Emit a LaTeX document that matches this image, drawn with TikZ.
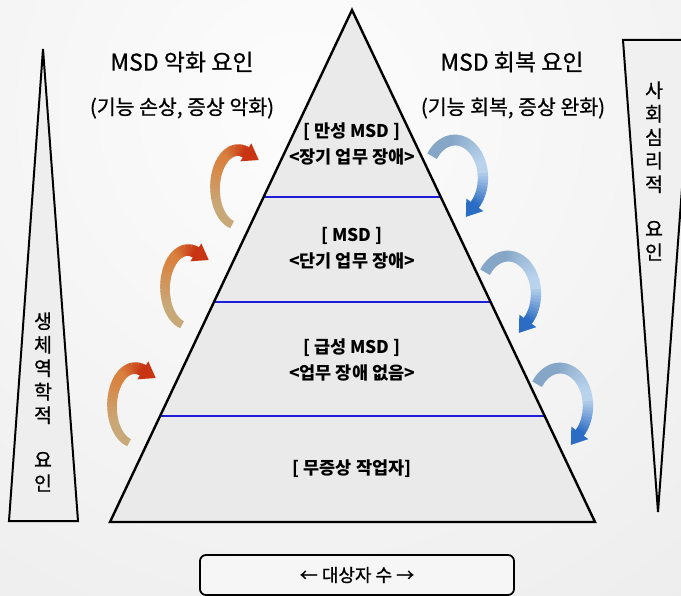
\documentclass[tikz,border=0pt]{standalone}
\usepackage{fontspec}
\setmainfont{Noto Sans CJK KR}
\newfontfamily\krhv{Noto Sans CJK KR}[FakeBold=0.7]
\usetikzlibrary{calc}

\definecolor{Ltail}{HTML}{C9A877}
\definecolor{Lmid}{HTML}{D9823F}
\definecolor{Lhead}{HTML}{C93412}
\definecolor{Btail}{HTML}{86A6C8}
\definecolor{Bmid}{HTML}{B9D3EC}
\definecolor{Bhead}{HTML}{2B6CC4}
\definecolor{lvl}{HTML}{1E1ED8}
\definecolor{pyrfill}{HTML}{EAEAEA}

% gradient curved arrow: cx cy rx ry t0 t1 w0 w1 colour-prefix
\newcommand\garrow[9]{%
  \pgfmathsetmacro\gda{(#6-#5)/40}
  \foreach \gi in {0,...,39}{
    \pgfmathsetmacro\gta{#5+\gi*\gda}
    \pgfmathsetmacro\gtb{\gta+\gda*1.35}
    \pgfmathsetmacro\gw{#7+(#8-#7)*\gi/39}
    \pgfmathtruncatemacro\gma{max(0,min(100,(\gi-10)*100/15))}
    \pgfmathtruncatemacro\gmb{max(0,min(100,(\gi-28)*100/11))}
    \colorlet{gcA}{#9mid!\gma!#9tail}
    \colorlet{gcB}{#9head!\gmb!gcA}
    \draw[line width=\gw pt, gcB] ({#1+#3*cos(\gta)},{#2+#4*sin(\gta)})
      arc[start angle=\gta, end angle=\gtb, x radius=#3, y radius=#4];
  }
  \pgfmathsetmacro\gbx{#1+#3*cos(#6)}
  \pgfmathsetmacro\gby{#2+#4*sin(#6)}
  \pgfmathsetmacro\gtx{-#3*sin(#6)}
  \pgfmathsetmacro\gty{#4*cos(#6)}
  \pgfmathsetmacro\gtn{sqrt(\gtx*\gtx+\gty*\gty)}
  \pgfmathsetmacro\gux{\gtx/\gtn}
  \pgfmathsetmacro\guy{\gty/\gtn}
  \fill[#9head] ({\gbx-\guy*10.5},{\gby+\gux*10.5}) -- ({\gbx+\gux*15},{\gby+\guy*15})
     -- ({\gbx+\guy*10.5},{\gby-\gux*10.5}) -- cycle;
}

\tikzset{
  hdr/.style={font=\krhv\fontsize{23}{26}\selectfont, inner sep=0pt},
  subhdr/.style={font=\krhv\fontsize{20.5}{24}\selectfont, inner sep=0pt},
  lvltext/.style={font=\fontsize{17.5}{26}\selectfont\bfseries, align=center, inner sep=0pt},
  vert/.style={font=\krhv\fontsize{19.5}{23.5}\selectfont, align=center, inner sep=0pt},
  lvlline/.style={draw=lvl, line width=2pt},
  edge/.style={draw=black, line width=2.4pt, line join=miter},
  thin/.style={draw=black, line width=2pt, line join=miter},
  countbox/.style={draw=black, line width=1.8pt, rounded corners=6pt, fill=white!93!gray,
    minimum width=314pt, minimum height=40pt, inner sep=0pt, font=\krhv\fontsize{18}{22}\selectfont},
}

\begin{document}
\begin{tikzpicture}[x=1pt,y=-1pt]
\useasboundingbox (0,0) rectangle (681,596);
\begin{scope}
\clip (0,0) rectangle (681,596);
% background
\shade[inner color=white!98!gray, outer color=white!74!gray] (300,110) circle[radius=1250];

% side triangles
\filldraw[thin, fill=white!87!gray] (43,49) -- (78,521) -- (9,521) -- cycle;
\filldraw[thin, fill=white!88!gray] (623,40) -- (693,40) -- (658,512) -- cycle;

% pyramid
\coordinate (apex) at (352,10);
\coordinate (bl) at (110,522);
\coordinate (br) at (595,522);
\fill[pyrfill] (apex) -- (br) -- (bl) -- cycle;
\draw[lvlline] ($(bl)!0.6348!(apex)$) -- ($(br)!0.6348!(apex)$);
\draw[lvlline] ($(bl)!0.4297!(apex)$) -- ($(br)!0.4297!(apex)$);
\draw[lvlline] ($(bl)!0.2070!(apex)$) -- ($(br)!0.2070!(apex)$);
\draw[edge] (apex) -- (br) -- (bl) -- cycle;

% curved arrows
\garrow{238}{188}{23}{38}{105}{290}{8}{12}{L}
\garrow{188}{288}{23}{38}{105}{290}{8}{12}{L}
\garrow{135}{406}{23}{38}{105}{290}{8}{12}{L}
\garrow{455}{178}{28}{38}{215}{405}{11}{10}{B}
\garrow{508}{294}{28}{38}{215}{405}{11}{10}{B}
\garrow{560}{406}{28}{38}{215}{405}{11}{10}{B}
\end{scope}

% headings
\node[hdr] (lh) at (182,62) {MSD 악화 요인};
\node[subhdr] (ls) at (182,108) {(기능 손상, 증상 악화)};
\node[hdr] (rh) at (512,62) {MSD 회복 요인};
\node[subhdr] (rs) at (513,108) {(기능 회복, 증상 완화)};

% level labels
\node[lvltext] (l1) at (352,144) {[ 만성 MSD ]\\<장기 업무 장애>};
\node[lvltext] (l2) at (352,248) {[ MSD ]\\<단기 업무 장애>};
\node[lvltext] (l3) at (352,360) {[ 급성 MSD ]\\<업무 장애 없음>};
\node[lvltext] (l4) at (352,469) {[ 무증상 작업자]};

% vertical labels
\node[vert] (bio) at (43,402) {생\\체\\역\\학\\적\\[21pt]요\\인};
\node[vert] (psy) at (654,171) {사\\회\\심\\리\\적\\[21pt]요\\인};

% count box
\node[countbox] (cnt) at (357,575) {← 대상자 수 →};
\end{tikzpicture}
\end{document}
